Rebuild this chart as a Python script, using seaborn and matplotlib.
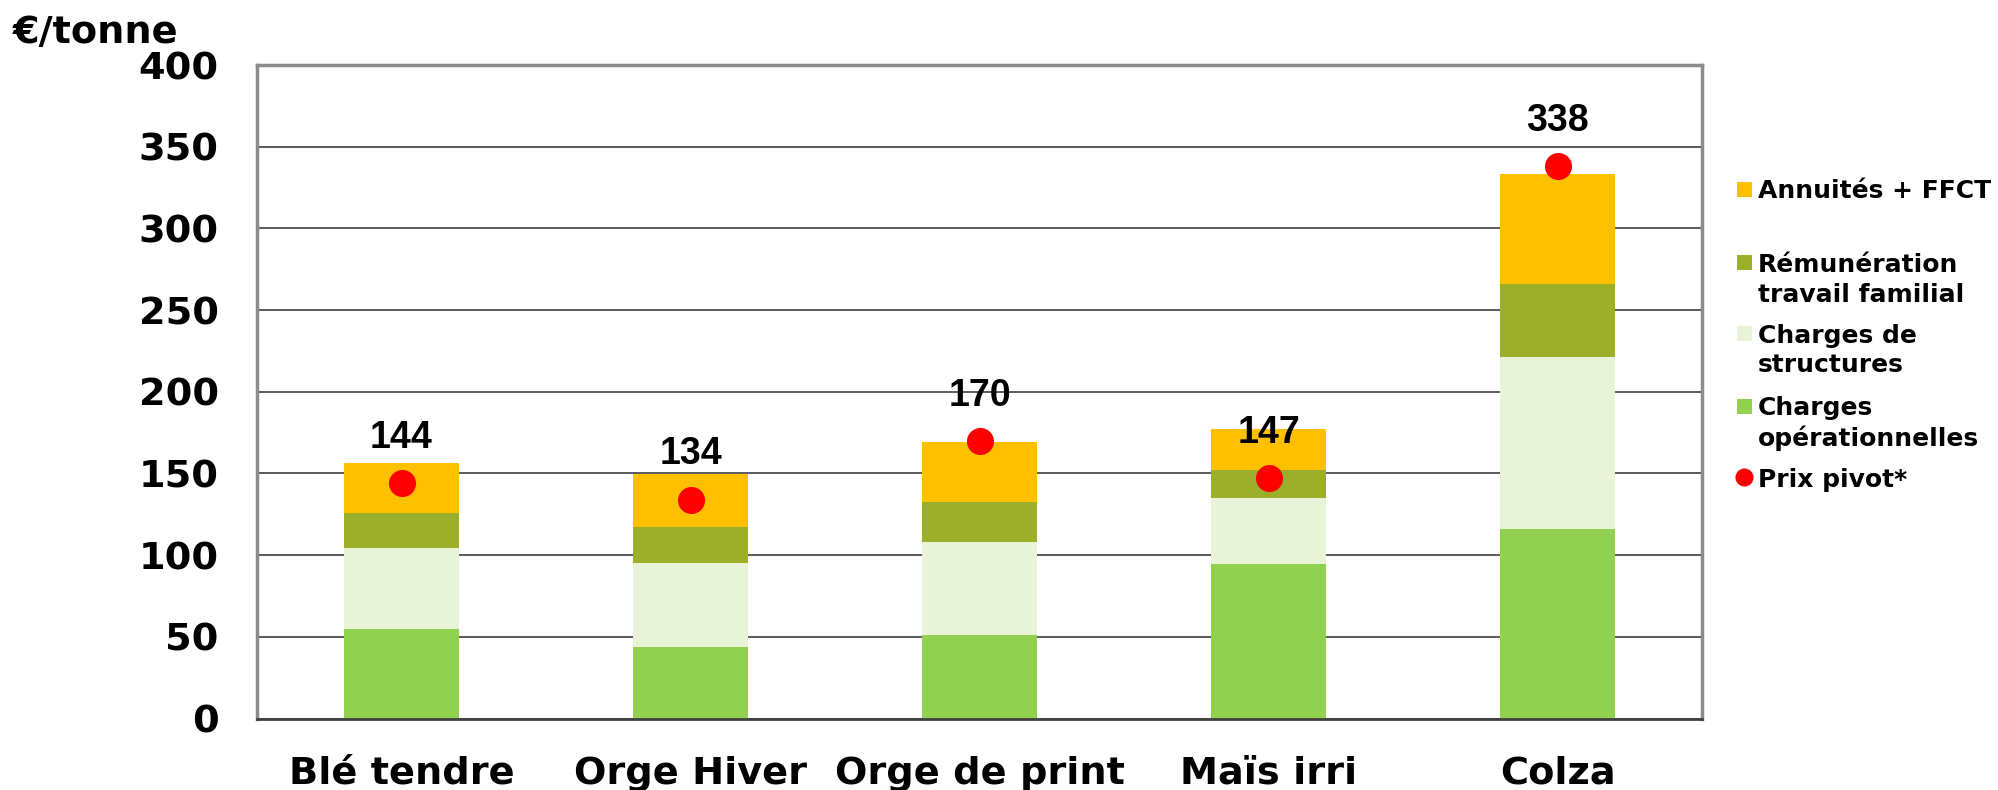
import seaborn as sns
import matplotlib.pyplot as plt
from matplotlib.lines import Line2D

cultures = ["Blé tendre", "Orge Hiver", "Orge de print", "Maïs irri", "Colza"]
charges_op = [55, 44, 51, 94.5, 116]
charges_struct = [49.5, 51, 57, 40.5, 105.5]
remuneration = [21, 22, 24.5, 17, 44.5]
annuites = [31, 32.5, 36.5, 25.5, 67]
prix_pivot = [144, 134, 170, 147, 338]

series = [
    ("Charges\nopérationnelles", charges_op, "#92D050"),
    ("Charges de\nstructures", charges_struct, "#E9F3D8"),
    ("Rémunération\ntravail familial", remuneration, "#9BAF2B"),
    ("Annuités + FFCT", annuites, "#FFC000"),
]

sns.set_style("white")
plt.rcParams["font.family"] = ["DejaVu Sans"]
plt.rcParams["text.color"] = "black"
plt.rcParams["xtick.labelcolor"] = "black"
plt.rcParams["ytick.labelcolor"] = "black"

fig = plt.figure(figsize=(19.98, 7.90), dpi=100)
ax = fig.add_axes([257 / 1998, 1 - 718.5 / 790, (1702 - 257) / 1998, (718.5 - 65) / 790])

bottom = [0] * len(cultures)
for name, vals, col in series:
    sns.barplot(x=cultures, y=vals, bottom=bottom, color=col, width=0.4,
                edgecolor="none", linewidth=0, saturation=1, ax=ax)
    bottom = [b + v for b, v in zip(bottom, vals)]

xs = list(range(len(cultures)))
ax.scatter(xs, prix_pivot, s=380, color="#FF0000", zorder=5, linewidths=0)
for x, p in zip(xs, prix_pivot):
    ax.annotate(str(p), (x, p), xytext=(0, 32.5), textcoords="offset points",
                ha="center", va="center", fontsize=27, fontweight="bold", color="black",
                family=["Liberation Sans", "DejaVu Sans"])

ax.set_ylim(0, 400)
ax.set_xlim(-0.5, len(cultures) - 0.5)
ax.set_yticks(range(0, 401, 50))
ax.set_yticklabels([str(v) for v in range(0, 401, 50)], fontsize=27.5, fontweight="bold",
                   color="black")
ax.set_xticks(xs)
ax.set_xticklabels(cultures, fontsize=27.5, fontweight="bold", color="black")
ax.set_xticks([x - 0.5 for x in range(len(cultures) + 1)], minor=True)
ax.tick_params(axis="x", which="major", length=0, pad=27)
ax.tick_params(axis="x", which="minor", length=8.6, width=1.5, color="#808080", direction="out")
ax.tick_params(axis="y", length=8.6, width=1.5, color="#808080", direction="out", pad=19)
ax.set_xlabel("")
ax.set_ylabel("")

ax.set_axisbelow(True)
ax.yaxis.grid(True, color="#404040", linewidth=1.2)
for side in ["left", "right", "top"]:
    ax.spines[side].set_visible(True)
    ax.spines[side].set_color("#8C8C8C")
    ax.spines[side].set_linewidth(2.5)
ax.spines["bottom"].set_color("#404040")
ax.spines["bottom"].set_linewidth(2)

fig.text(13 / 1998, 1 - 43 / 790, "€/tonne", fontsize=27.5, fontweight="bold",
         va="baseline", color="black")

# legend, Excel style: marker next to the first line of each entry
legend_rows = [
    ("Annuités + FFCT", "#FFC000", "s", 189),
    ("Rémunération\ntravail familial", "#9BAF2B", "s", 262),
    ("Charges de\nstructures", "#E9F3D8", "s", 333),
    ("Charges\nopérationnelles", "#92D050", "s", 406),
    ("Prix pivot*", "#FF0000", "o", 477),
]
for label, col, mk, ypx in legend_rows:
    size = 10.8 if mk == "s" else 13
    fig.add_artist(Line2D([1744 / 1998], [1 - ypx / 790], marker=mk, markersize=size,
                          color=col, markeredgewidth=0, linestyle="none",
                          transform=fig.transFigure))
    for k, line in enumerate(label.split("\n")):
        fig.text(1758 / 1998, 1 - (ypx + 30 * k) / 790, line, fontsize=18,
                 fontweight="bold", va="center_baseline", ha="left", color="black")

fig.savefig("out.png", dpi=100)
